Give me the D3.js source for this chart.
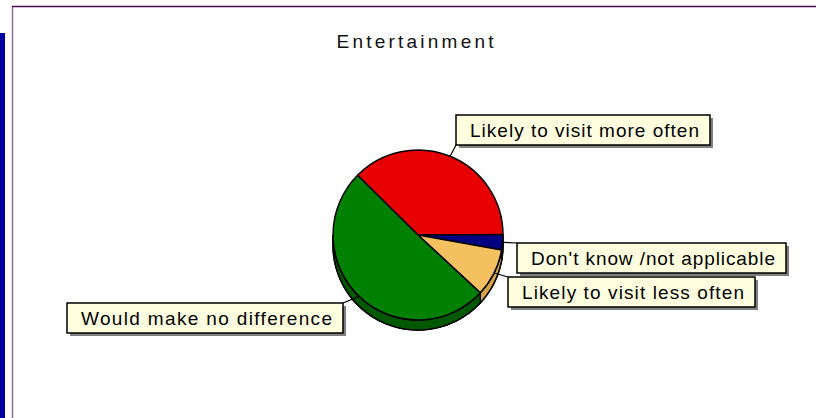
<!DOCTYPE html>
<html><head><meta charset="utf-8">
<script src="https://cdn.jsdelivr.net/npm/d3@7/dist/d3.min.js"></script>
<style>body{margin:0;background:#fff;}svg{display:block;}</style>
</head><body>
<svg id="c" width="816" height="418"></svg>
<script>
const title = "Entertainment";
const categories = ["Likely to visit more often", "Don't know /not applicable", "Likely to visit less often", "Would make no difference"];
const values = [37.5, 2.9, 9.1, 50.5];
const colors = ["#e60000", "#000080", "#f4c060", "#008000"];
const sideColors = ["#a00000", "#000050", "#d8a448", "#005800"];

// label box layout [x, y, w] and which corner the leader goes to
const boxes = [
  {x:456, y:115, w:254, ax:0, ay:1},
  {x:517, y:243, w:269, ax:0, ay:0},
  {x:508, y:277, w:247, ax:0, ay:0},
  {x:67,  y:303, w:276, ax:1, ay:0}
];
const boxH = 30;

const svg = d3.select("#c");
const W = 816, H = 418;
const cx = 418, cy = 235, r = 85, depth = 10;

// frame
svg.append("rect").attr("x",0).attr("y",33).attr("width",5).attr("height",H-33).attr("fill","#0000a0");
svg.append("line").attr("x1",12.5).attr("y1",6).attr("x2",12.5).attr("y2",H).attr("stroke","#8b6b9b").attr("stroke-width",1.5);
svg.append("line").attr("x1",12).attr("y1",6.5).attr("x2",W).attr("y2",6.5).attr("stroke","#4b0a4b").attr("stroke-width",1.5);

svg.append("text").attr("x",415).attr("y",48).attr("text-anchor","middle")
  .attr("font-family","Liberation Sans, Arial, sans-serif").attr("font-size",19)
  .attr("textLength",157).attr("lengthAdjust","spacing")
  .attr("fill","#111").text(title);

const startA = -45.3 * Math.PI/180;
const pie = d3.pie().sort(null).startAngle(startA).endAngle(startA + 2*Math.PI);
const arcs = pie(values);
const arc = d3.arc().innerRadius(0).outerRadius(r);

const g = svg.append("g");
// bottom (shifted) slices
g.selectAll("path.bot").data(arcs).join("path").attr("class","bot")
  .attr("transform",`translate(${cx},${cy+depth})`)
  .attr("d",arc).attr("fill",(d,i)=>sideColors[i]).attr("stroke","#000").attr("stroke-width",1.5);
// walls
function wallPath(d){
  let a0 = d.startAngle, a1 = d.endAngle;
  const lo = Math.PI/2, hi = 3*Math.PI/2;
  a0 = Math.max(a0, lo); a1 = Math.min(a1, hi);
  if (a1 <= a0) return null;
  const p = d3.path();
  const n = 40;
  for (let k=0;k<=n;k++){
    const t = a0 + (a1-a0)*k/n;
    const x = r*Math.sin(t), y = -r*Math.cos(t);
    if (k===0) p.moveTo(x,y); else p.lineTo(x,y);
  }
  for (let k=n;k>=0;k--){
    const t = a0 + (a1-a0)*k/n;
    p.lineTo(r*Math.sin(t), -r*Math.cos(t)+depth);
  }
  p.closePath();
  return p.toString();
}
g.selectAll("path.wall").data(arcs.filter(d=>wallPath(d))).join("path").attr("class","wall")
  .attr("transform",`translate(${cx},${cy})`)
  .attr("d",wallPath).attr("fill",d=>sideColors[d.index]).attr("stroke","#000").attr("stroke-width",1.5);
// top slices
g.selectAll("path.top").data(arcs).join("path").attr("class","top")
  .attr("transform",`translate(${cx},${cy})`)
  .attr("d",arc).attr("fill",(d,i)=>colors[i]).attr("stroke","#000").attr("stroke-width",1.5).attr("stroke-linejoin","round");

// labels
arcs.forEach((d,i)=>{
  const b = boxes[i];
  const m = (d.startAngle + d.endAngle)/2;
  const px = cx + r*Math.sin(m), py = cy - r*Math.cos(m);
  const tx = b.x + b.ax*b.w, ty = b.y + b.ay*boxH;
  svg.append("line").attr("x1",px).attr("y1",py).attr("x2",tx).attr("y2",ty)
    .attr("stroke","#000").attr("stroke-width",1.2);
  svg.append("rect").attr("x",b.x+3).attr("y",b.y+3).attr("width",b.w).attr("height",boxH).attr("fill","#808080");
  svg.append("rect").attr("x",b.x).attr("y",b.y).attr("width",b.w).attr("height",boxH)
    .attr("fill","#ffffe0").attr("stroke","#000").attr("stroke-width",1.5);
  svg.append("text").attr("x",b.x+14).attr("y",b.y+22)
    .attr("font-family","Liberation Sans, Arial, sans-serif").attr("font-size",19)
    .attr("textLength",b.w-25).attr("lengthAdjust","spacing")
    .attr("fill","#000").text(categories[i]);
});
</script>
</body></html>
